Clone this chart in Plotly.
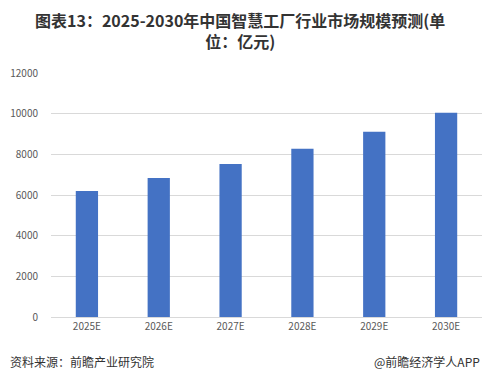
import plotly.graph_objects as go

categories = ["2025E", "2026E", "2027E", "2028E", "2029E", "2030E"]
values = [6200, 6840, 7530, 8270, 9110, 10050]
y_ticks = [0, 2000, 4000, 6000, 8000, 10000, 12000]
y_tick_labels = ["0", "2000", "4000", "6000", "8000", "10000", "12000"]

title_text = "图表13：2025-2030年中国智慧工厂行业市场规模预测(单<br>位：亿元)"
source_text = "资料来源：前瞻产业研究院"
brand_text = "@前瞻经济学人APP"

fig = go.Figure()
fig.add_trace(go.Bar(
    x=categories, y=values,
    marker=dict(color="#4472C4", line=dict(width=0)),
    width=0.31,
))

plot_w = 431.0
plot_h = 244.0

def py(pix):
    # convert pixel row (from top of figure) to paper y
    return (317 - pix) / plot_h

fig.update_layout(
    width=482, height=382,
    margin=dict(l=51, r=0, t=73, b=65),
    paper_bgcolor="white", plot_bgcolor="white",
    showlegend=False,
    font=dict(family="Noto Sans CJK SC, sans-serif", color="#595959", size=10),
    xaxis=dict(
        showgrid=False, showline=True, linecolor="#d9d9d9", linewidth=1,
        ticks="", tickfont=dict(size=10, color="#595959"),
    ),
    yaxis=dict(
        range=[0, 12000], tickvals=y_ticks, ticktext=y_tick_labels,
        showgrid=True, gridcolor="#d9d9d9", gridwidth=1,
        zeroline=False, showline=False, ticks="",
        tickfont=dict(size=10, color="#595959"),
        ticklabelstandoff=12,
    ),
    annotations=[
        dict(text="<b>" + title_text + "</b>", xref="paper", yref="paper",
             x=(240 - 51) / plot_w, y=py(30.5),
             xanchor="center", yanchor="middle", align="center", showarrow=False,
             font=dict(size=16, color="#333333")),
        dict(text=source_text, xref="paper", yref="paper", x=-43 / plot_w, y=-44 / plot_h,
             xanchor="left", yanchor="middle", showarrow=False,
             font=dict(size=12, color="#333333")),
        dict(text=brand_text, xref="paper", yref="paper", x=1.0, y=-44 / plot_h,
             xanchor="right", yanchor="middle", showarrow=False,
             font=dict(size=12, color="#333333")),
    ],
)

fig.write_html("out.html", config={"displayModeBar": False},
               post_script="document.body.style.margin='0';")
